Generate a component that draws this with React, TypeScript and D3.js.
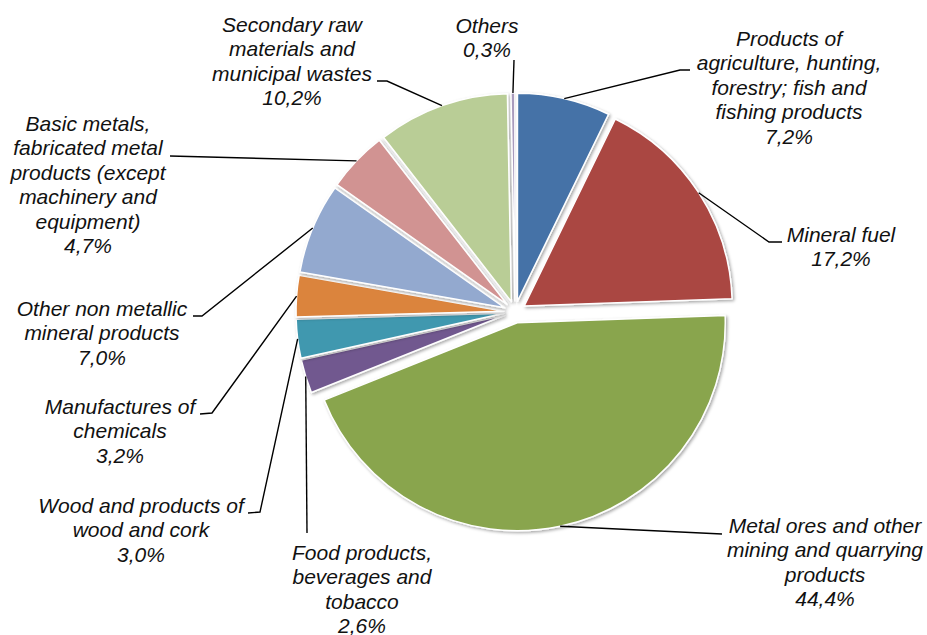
import React from 'react';
import * as d3 from 'd3';

// slice data, clockwise from 12 o'clock
const categories = [
  'Products of agriculture, hunting, forestry; fish and fishing products',
  'Mineral fuel',
  'Metal ores and other mining and quarrying products',
  'Food products, beverages and tobacco',
  'Wood and products of wood and cork',
  'Manufactures of chemicals',
  'Other non metallic mineral products',
  'Basic metals, fabricated metal products (except machinery and equipment)',
  'Secondary raw materials and municipal wastes',
  'Others',
];
const shares = [7.2, 17.2, 44.4, 2.6, 3.0, 3.2, 7.0, 4.7, 10.2, 0.3];
const colors = [
  '#4572A7', '#AA4643', '#89A54E', '#71588F', '#4198AF',
  '#DB843D', '#93A9CF', '#D19392', '#B9CD96', '#A99BBD',
];
// wrapped label text, as printed
const labelLines = [
  ['Products of', 'agriculture, hunting,', 'forestry; fish and', 'fishing products'],
  ['Mineral fuel'],
  ['Metal ores and other', 'mining and quarrying', 'products'],
  ['Food products,', 'beverages and', 'tobacco'],
  ['Wood and products of', 'wood and cork'],
  ['Manufactures of', 'chemicals'],
  ['Other non metallic', 'mineral products'],
  ['Basic metals,', 'fabricated metal', 'products (except', 'machinery and', 'equipment)'],
  ['Secondary raw', 'materials and', 'municipal wastes'],
  ['Others'],
];

// label placement: text centre, first baseline, leader points on the text side
const labelPos: { x: number; y: number; elbow: [number, number][] }[] = [
  { x: 789, y: 46, elbow: [[690, 70], [680, 70]] },
  { x: 841, y: 242, elbow: [[782, 242], [769, 242]] },
  { x: 825, y: 533, elbow: [[722, 534]] },
  { x: 362, y: 560, elbow: [[307, 533]] },
  { x: 141, y: 513, elbow: [[248, 513], [260, 512]] },
  { x: 120, y: 414, elbow: [[200, 414], [212, 413]] },
  { x: 102, y: 316, elbow: [[193, 316], [202, 316]] },
  { x: 88, y: 131, elbow: [[170, 156]] },
  { x: 292, y: 32, elbow: [[377, 81], [387, 81]] },
  { x: 487, y: 33, elbow: [[514, 60]] },
];

const W = 927;
const H = 635;
const cx = 515;
const cy = 312;
const R = 208;
const EXPLODE = 11;
const LINE_H = 24.4;

const fmtPct = (v: number) => d3.format('.1f')(v).replace('.', ',') + '%';

const App: React.FC = () => {
  const pie = d3.pie<number>().sort(null).value(d => d);
  const arcs = pie(shares);
  const arc = d3.arc<d3.PieArcDatum<number>>().innerRadius(0).outerRadius(R);
  const rim = d3.arc<d3.PieArcDatum<number>>().innerRadius(R).outerRadius(R);
  const line = d3.line();

  return (
    <div style={{ position: 'absolute', left: 0, top: 0 }}>
      <svg width={W} height={H} style={{ display: 'block', background: '#fff' }}>
        <defs>
          <filter id="sliceShadow" x="-20%" y="-20%" width="140%" height="140%">
            <feDropShadow dx="1.5" dy="1.5" stdDeviation="1.4" floodColor="#000" floodOpacity="0.35" />
          </filter>
        </defs>

        {arcs.map((d, i) => {
          const mid = (d.startAngle + d.endAngle) / 2;
          const ox = cx + EXPLODE * Math.sin(mid);
          const oy = cy - EXPLODE * Math.cos(mid);
          return (
            <path
              key={categories[i]}
              d={arc(d) || ''}
              transform={`translate(${ox},${oy})`}
              fill={colors[i]}
              stroke="#fff"
              strokeWidth={1.5}
              strokeLinejoin="round"
              filter="url(#sliceShadow)"
            />
          );
        })}

        {arcs.map((d, i) => {
          const mid = (d.startAngle + d.endAngle) / 2;
          const ox = cx + EXPLODE * Math.sin(mid);
          const oy = cy - EXPLODE * Math.cos(mid);
          const [rx, ry] = rim.centroid(d);
          const pts: [number, number][] = [...labelPos[i].elbow, [ox + rx, oy + ry]];
          return (
            <path
              key={'leader-' + i}
              d={line(pts) || ''}
              fill="none"
              stroke="#000"
              strokeWidth={1.4}
            />
          );
        })}

        {labelLines.map((lines, i) => {
          const all = [...lines, fmtPct(shares[i])];
          return (
            <text
              key={'label-' + i}
              x={labelPos[i].x}
              y={labelPos[i].y}
              textAnchor="middle"
              fontFamily="'Liberation Sans', Arial, sans-serif"
              fontStyle="italic"
              fontSize={21}
              fill="#111"
            >
              {all.map((t, j) => (
                <tspan key={j} x={labelPos[i].x} y={labelPos[i].y + j * LINE_H}>
                  {t}
                </tspan>
              ))}
            </text>
          );
        })}
      </svg>
    </div>
  );
};

export default App;
